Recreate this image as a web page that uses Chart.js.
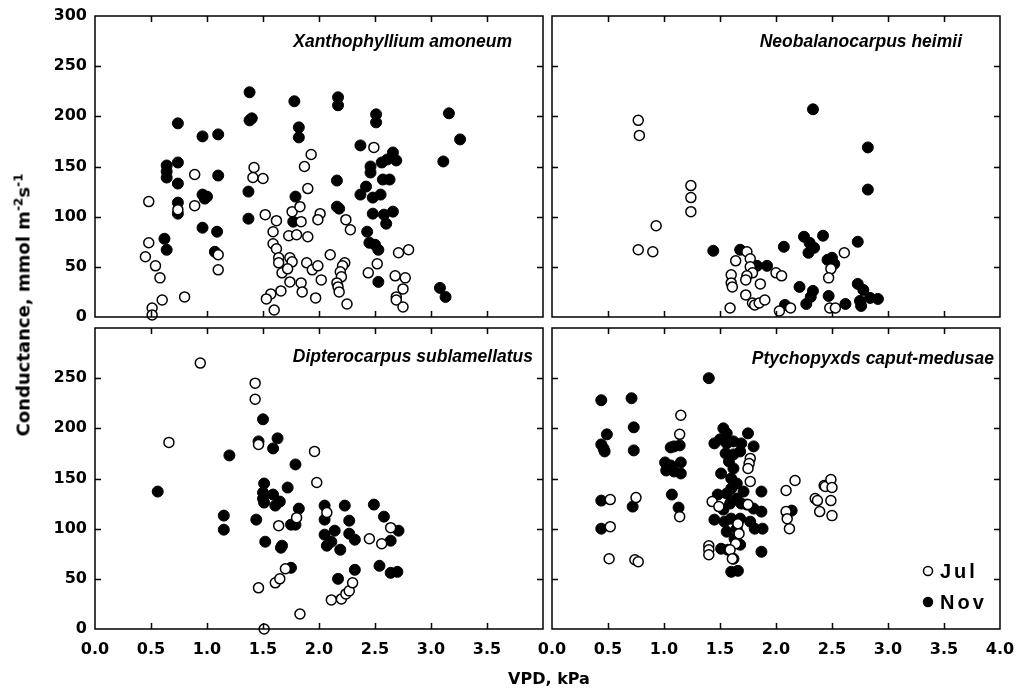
<!DOCTYPE html>
<html>
<head>
<meta charset="utf-8">
<script src="https://cdn.jsdelivr.net/npm/chart.js@4.4.1/dist/chart.umd.min.js"></script>
<style>
  body { margin: 0; background: #fff; width: 1018px; height: 690px; overflow: hidden; position: relative; }
  canvas { position: absolute; left: 0; top: 0; }
  .ytitle {
    position: absolute; left: 23px; top: 305px;
    transform: translate(-50%, -50%) rotate(-90deg);
    white-space: nowrap; font: bold 18px "DejaVu Sans", sans-serif; color: #000;
  }
  .ytitle sup { font-size: 12px; line-height: 0; vertical-align: 7px; }
  .xtitle {
    position: absolute; left: 549px; top: 678px;
    transform: translate(-50%, -50%);
    white-space: nowrap; font: bold 16px "DejaVu Sans", sans-serif; color: #000;
  }
</style>
</head>
<body>
<canvas id="xan" width="1018" height="690"></canvas>
<canvas id="neo" width="1018" height="690"></canvas>
<canvas id="dip" width="1018" height="690"></canvas>
<canvas id="pty" width="1018" height="690"></canvas>
<div class="ytitle">Conductance, mmol m<sup>-2</sup>s<sup>-1</sup></div>
<div class="xtitle">VPD, kPa</div>
<script>
// Xanthophyllium amoneum
const xanJulVpd = [0.48, 0.48, 0.45, 0.54, 0.58, 0.51, 0.51, 0.60, 0.80, 0.89, 0.89, 0.74, 1.10, 1.10,
  1.42, 1.41, 1.50, 1.52, 1.62, 1.59, 1.59, 1.62, 1.64, 1.64, 1.67, 1.74, 1.76, 1.72, 1.74, 1.66, 1.57, 1.53, 1.60,
  1.73, 1.80, 1.76, 1.83, 1.84, 1.90, 1.90, 1.87, 1.93, 1.84, 1.85, 1.89, 1.94, 1.97,
  2.49, 2.01, 1.99, 2.24, 2.28, 2.10, 1.99, 2.02, 2.23, 2.21, 2.19, 2.20, 2.16, 2.17, 2.18, 2.25,
  2.44, 2.52, 2.68, 2.77, 2.71, 2.80, 2.75, 2.69, 2.69, 2.75];
const xanJulCond = [115, 74, 60, 51, 39, 9, 2, 17, 20, 142, 111, 107, 62, 47,
  149, 139, 138, 102, 96, 85, 73, 68, 59, 54, 44, 59, 55, 48, 35, 26, 23, 18, 7,
  81, 82, 105, 110, 95, 80, 128, 150, 162, 34, 25, 54, 47, 19,
  169, 103, 97, 97, 87, 62, 51, 37, 54, 51, 45, 40, 34, 30, 25, 13,
  44, 53, 41, 39, 64, 67, 28, 20, 17, 10];
const xanNovVpd = [0.74, 0.62, 0.64, 0.64, 0.64, 0.64, 0.74, 0.74, 0.74, 0.74, 0.96, 1.10, 1.10, 0.96, 1.00, 0.98,
  0.96, 1.09, 1.07, 1.38, 1.38, 1.40, 1.37, 1.37, 1.78, 1.82, 1.82, 1.79, 1.77,
  2.17, 2.17, 2.51, 2.51, 3.16, 3.26, 3.11, 2.37, 2.46, 2.46, 2.56, 2.61, 2.66, 2.69, 2.57, 2.63,
  2.16, 2.42, 2.37, 2.48, 2.55, 2.16, 2.18, 2.48, 2.58, 2.66, 2.60, 2.43, 2.45, 2.50, 2.53, 2.53, 3.08, 3.13];
const xanNovCond = [193, 78, 67, 151, 145, 139, 154, 133, 114, 103, 180, 182, 141, 122, 120, 118,
  89, 85, 65, 224, 196, 198, 125, 98, 215, 189, 179, 120, 95,
  219, 211, 202, 194, 203, 177, 155, 171, 150, 144, 154, 157, 164, 156, 137, 137,
  136, 130, 122, 119, 122, 110, 108, 103, 102, 105, 93, 85, 74, 72, 67, 35, 29, 20];

// Neobalanocarpus heimii
const neoJulVpd = [0.77, 0.78, 0.93, 0.77, 0.90, 1.24, 1.24, 1.24, 1.64, 1.74, 1.77, 1.77, 1.79, 1.74, 1.73,
  1.60, 1.60, 1.61, 1.86, 1.73, 1.79, 1.81, 1.85, 1.90, 1.59, 2.00, 2.05, 2.03, 2.13, 2.61, 2.49, 2.47, 2.48, 2.53];
const neoJulCond = [196, 181, 91, 67, 65, 131, 119, 105, 56, 65, 58, 50, 44, 41, 37,
  42, 34, 30, 33, 22, 14, 12, 14, 17, 9, 44, 41, 6, 9, 64, 48, 39, 9, 9];
const neoNovVpd = [2.33, 2.82, 2.82, 1.44, 1.68, 2.07, 2.25, 2.30, 2.34, 2.29, 2.42, 2.50, 2.46, 2.52, 2.73,
  1.83, 1.92, 2.21, 2.33, 2.31, 2.27, 2.47, 2.62, 2.08, 2.73, 2.78, 2.75, 2.76, 2.84, 2.91];
const neoNovCond = [207, 169, 127, 66, 67, 70, 80, 74, 69, 64, 81, 59, 57, 53, 75,
  51, 51, 30, 26, 20, 13, 21, 13, 12, 33, 27, 16, 11, 19, 18];

// Dipterocarpus sublamellatus
const dipJulVpd = [0.94, 0.66, 1.43, 1.43, 1.46, 1.96, 1.98, 2.07, 1.80, 1.64, 1.46, 1.61, 1.65, 1.70, 1.83, 1.51,
  2.11, 2.20, 2.24, 2.27, 2.30, 2.45, 2.56, 2.64];
const dipJulCond = [265, 186, 245, 229, 184, 177, 146, 116, 111, 103, 41, 46, 50, 60, 15, 0,
  29, 30, 35, 38, 46, 90, 85, 101];
const dipNovVpd = [0.56, 1.15, 1.15, 1.20, 1.50, 1.46, 1.59, 1.63, 1.79, 1.51, 1.50, 1.50, 1.51, 1.59, 1.61, 1.65,
  1.72, 1.82, 1.44, 1.75, 1.79, 1.52, 1.66, 1.67, 1.75, 2.05, 2.05, 2.05, 2.07, 2.11, 2.14, 2.19, 2.23,
  2.27, 2.27, 2.32, 2.32, 2.17, 2.49, 2.58, 2.64, 2.54, 2.64, 2.70, 2.71];
const dipNovCond = [137, 113, 99, 173, 209, 187, 180, 190, 164, 145, 136, 130, 126, 134, 123, 127,
  141, 120, 109, 104, 104, 87, 81, 83, 61, 123, 109, 94, 83, 87, 98, 79, 123,
  108, 95, 89, 59, 50, 124, 112, 88, 63, 56, 57, 98];

// Ptychopyxds caput-medusae
const ptyJulVpd = [0.52, 0.52, 0.51, 0.75, 0.74, 0.77, 1.15, 1.14, 1.14, 1.40, 1.40, 1.40, 1.43, 1.49,
  1.77, 1.76, 1.75, 1.77, 1.75, 1.66, 1.67, 1.64, 1.59, 1.61, 2.09, 2.17, 2.09, 2.10, 2.12,
  2.35, 2.37, 2.39, 2.43, 2.44, 2.49, 2.50, 2.49, 2.50];
const ptyJulCond = [129, 102, 70, 131, 69, 67, 213, 194, 112, 83, 79, 74, 127, 122,
  170, 165, 160, 147, 124, 105, 95, 85, 79, 70, 138, 148, 117, 110, 100,
  130, 128, 117, 143, 142, 149, 141, 128, 113];
const ptyNovVpd = [0.44, 0.49, 0.44, 0.46, 0.47, 0.44, 0.44, 0.71, 0.73, 0.73, 0.72, 1.40, 1.06, 1.09, 1.14,
  1.01, 1.06, 1.02, 1.09, 1.15, 1.15, 1.07, 1.13,
  1.53, 1.56, 1.45, 1.50, 1.56, 1.62, 1.69, 1.75, 1.80, 1.55, 1.62, 1.68, 1.58, 1.62, 1.51, 1.60,
  1.65, 1.60, 1.71, 1.56, 1.48, 1.65, 1.59, 1.53, 1.69, 1.74, 1.80, 1.87, 1.45, 1.54, 1.60, 1.68,
  1.77, 1.81, 1.56, 1.65, 1.87, 1.63, 1.51, 1.57, 1.68, 1.62, 1.87, 1.60, 1.66, 1.88, 2.14];
const ptyNovCond = [228, 194, 184, 180, 177, 128, 100, 230, 201, 178, 122, 250, 181, 182, 183,
  166, 163, 158, 157, 166, 155, 134, 121,
  200, 195, 185, 189, 185, 187, 185, 195, 182, 175, 174, 177, 167, 160, 155, 150,
  145, 140, 137, 135, 134, 130, 125, 119, 125, 124, 120, 117, 109, 107, 110, 110,
  107, 100, 97, 100, 137, 90, 80, 79, 84, 70, 77, 57, 58, 100, 118];

const xRange = [0, 4];
const yRange = [0, 300];
const xStep = 0.5;
const yStep = 50;

const W = 1018, H = 690;
const tickFont = { family: "DejaVu Sans", weight: "bold", size: 16 };

function points(xs, ys) {
  return xs.map((x, i) => ({ x, y: ys[i] }));
}

const framePlugin = {
  id: "frame",
  afterDatasetsDraw(chart, args, opts) {
    const { ctx, chartArea: a, scales: { x, y } } = chart;
    ctx.save();
    ctx.strokeStyle = "#000";
    ctx.lineWidth = 1.5;
    ctx.strokeRect(a.left, a.top, a.right - a.left, a.bottom - a.top);
    ctx.beginPath();
    x.ticks.forEach((t) => {
      if (t.value <= x.min || t.value >= x.max) return;
      const px = Math.round(x.getPixelForValue(t.value)) + 0.5;
      ctx.moveTo(px, a.top); ctx.lineTo(px, a.top + 6);
      ctx.moveTo(px, a.bottom); ctx.lineTo(px, a.bottom - 6);
    });
    y.ticks.forEach((t) => {
      if (t.value <= y.min || t.value >= y.max) return;
      const py = Math.round(y.getPixelForValue(t.value)) + 0.5;
      ctx.moveTo(a.left, py); ctx.lineTo(a.left + 6, py);
      ctx.moveTo(a.right, py); ctx.lineTo(a.right - 6, py);
    });
    ctx.stroke();

    ctx.fillStyle = "#000";
    ctx.font = 'italic bold 17.5px "Liberation Sans", Arial, sans-serif';
    ctx.textAlign = "right";
    ctx.textBaseline = "middle";
    ctx.fillText(opts.title, a.right - opts.titleInset, a.top + opts.titleDy);

    if (opts.legend) {
      ctx.font = 'bold 20px "Liberation Sans", Arial, sans-serif';
      ctx.letterSpacing = "3px";
      ctx.textAlign = "left";
      chart.data.datasets.forEach((ds, i) => {
        const cx = a.right - 72;
        const cy = a.bottom - 58 + i * 31;
        ctx.beginPath();
        ctx.arc(cx, cy, 4.5, 0, Math.PI * 2);
        ctx.fillStyle = ds.pointBackgroundColor;
        ctx.fill();
        ctx.lineWidth = 1.5;
        ctx.strokeStyle = "#000";
        ctx.stroke();
        ctx.fillStyle = "#000";
        ctx.fillText(ds.label, cx + 12, cy + 1);
      });
    }
    ctx.restore();
  },
};

function makePanel(cfg) {
  const a = cfg.area;
  const yW = cfg.yLabels ? 40 : 0;
  const xH = cfg.xLabels ? 30 : 0;
  return new Chart(document.getElementById(cfg.id), {
    type: "scatter",
    data: {
      datasets: [
        { label: "Jul", data: points(cfg.julX, cfg.julY), pointRadius: 5, pointBackgroundColor: "#fff",
          pointBorderColor: "#000", pointBorderWidth: 1.5, clip: false },
        { label: "Nov", data: points(cfg.novX, cfg.novY), pointRadius: 5.5, pointBackgroundColor: "#000",
          pointBorderColor: "#000", pointBorderWidth: 1, clip: false },
      ],
    },
    options: {
      responsive: false,
      animation: false,
      events: [],
      layout: { padding: { left: a.l - yW, top: a.t, right: W - a.r, bottom: H - a.b - xH } },
      plugins: {
        legend: { display: false },
        tooltip: { enabled: false },
        frame: { title: cfg.title, titleInset: cfg.titleInset, titleDy: cfg.titleDy, legend: !!cfg.legend },
      },
      scales: {
        x: {
          type: "linear", min: xRange[0], max: xRange[1],
          grid: { display: false, drawTicks: false }, border: { display: false },
          ticks: {
            display: !!cfg.xLabels, stepSize: xStep, autoSkip: false, maxRotation: 0, padding: 11,
            color: "#000", font: tickFont,
            callback: (v) => (cfg.xHide || []).includes(v) ? null : v.toFixed(1),
          },
          afterFit: (s) => { s.height = xH; s.paddingLeft = 0; s.paddingRight = 0; },
        },
        y: {
          type: "linear", min: yRange[0], max: yRange[1],
          grid: { display: false, drawTicks: false }, border: { display: false },
          ticks: {
            display: !!cfg.yLabels, stepSize: yStep, autoSkip: false, padding: 8,
            color: "#000", font: tickFont,
            callback: (v) => (cfg.yHide || []).includes(v) ? null : String(v),
          },
          afterFit: (s) => { s.width = yW; s.paddingTop = 0; s.paddingBottom = 0; },
        },
      },
    },
    plugins: [framePlugin],
  });
}

makePanel({ id: "xan", area: { l: 95, t: 16, r: 543, b: 317 }, yLabels: true,
  julX: xanJulVpd, julY: xanJulCond, novX: xanNovVpd, novY: xanNovCond,
  title: "Xanthophyllium amoneum", titleInset: 31, titleDy: 26 });
makePanel({ id: "neo", area: { l: 552, t: 16, r: 1000, b: 317 },
  julX: neoJulVpd, julY: neoJulCond, novX: neoNovVpd, novY: neoNovCond,
  title: "Neobalanocarpus heimii", titleInset: 38, titleDy: 26 });
makePanel({ id: "dip", area: { l: 95, t: 328, r: 543, b: 629 }, yLabels: true, xLabels: true,
  yHide: [300], xHide: [4],
  julX: dipJulVpd, julY: dipJulCond, novX: dipNovVpd, novY: dipNovCond,
  title: "Dipterocarpus sublamellatus", titleInset: 10, titleDy: 29 });
makePanel({ id: "pty", area: { l: 552, t: 328, r: 1000, b: 629 }, xLabels: true, legend: true,
  julX: ptyJulVpd, julY: ptyJulCond, novX: ptyNovVpd, novY: ptyNovCond,
  title: "Ptychopyxds caput-medusae", titleInset: 6, titleDy: 31 });
</script>
</body>
</html>
